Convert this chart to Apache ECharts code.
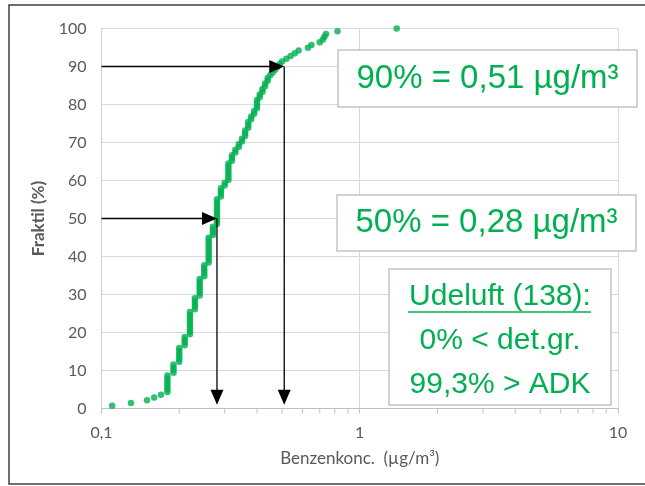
<!DOCTYPE html>
<html>
<head>
<meta charset="utf-8">
<script src="https://cdn.jsdelivr.net/npm/echarts@6/dist/echarts.min.js"></script>
<style>
  html, body { margin: 0; padding: 0; background: #ffffff; }
  #chart { width: 645px; height: 486px; }
</style>
</head>
<body>
<div id="chart"></div>
<script>
// Benzene concentrations in outdoor air (µg/m³), sorted ascending, one per sample
const concentrations = [
  0.11, 0.13, 0.15, 0.16, 0.17,
  0.18, 0.18, 0.18, 0.18, 0.18, 0.18, 0.18,
  0.19, 0.19, 0.19, 0.19,
  0.20, 0.20, 0.20, 0.20, 0.20, 0.20,
  0.21, 0.21, 0.21, 0.21,
  0.22, 0.22, 0.22, 0.22, 0.22, 0.22, 0.22, 0.22, 0.22,
  0.23, 0.23, 0.23, 0.23, 0.23,
  0.24, 0.24, 0.24, 0.24, 0.24, 0.24, 0.24,
  0.25, 0.25, 0.25, 0.25, 0.25,
  0.26, 0.26, 0.26, 0.26, 0.26, 0.26, 0.26, 0.26, 0.26, 0.26,
  0.27, 0.27, 0.27, 0.27,
  0.28, 0.28, 0.28, 0.28, 0.28, 0.28, 0.28, 0.28, 0.28, 0.28,
  0.29, 0.29, 0.29, 0.29,
  0.30, 0.30,
  0.31, 0.31, 0.31, 0.31, 0.31, 0.31, 0.31,
  0.32, 0.32, 0.32,
  0.33, 0.33,
  0.34, 0.34,
  0.35, 0.35,
  0.36, 0.36, 0.36,
  0.37, 0.37, 0.37,
  0.38, 0.38,
  0.39, 0.39,
  0.40, 0.40, 0.40, 0.40,
  0.41, 0.41,
  0.42, 0.42,
  0.43, 0.43,
  0.44, 0.44,
  0.45, 0.46, 0.47, 0.48, 0.49, 0.50,
  0.52, 0.54, 0.56, 0.58, 0.63, 0.65,
  0.70, 0.72, 0.73, 0.74, 0.82, 1.39
];

// Axis ticks
const xMajorTicks = [0.1, 1, 10];
const xMinorTicks = [0.2, 0.3, 0.4, 0.5, 0.6, 0.7, 0.8, 0.9, 2, 3, 4, 5, 6, 7, 8, 9];
const yTicks = [0, 10, 20, 30, 40, 50, 60, 70, 80, 90, 100];

// Read-off quantiles (fraktil in %, concentration in µg/m³)
const quantilePct = [90, 50];
const quantileValue = [0.51, 0.28];
const arrowFloorPct = 1;

// Summary box
const sampleName = 'Udeluft';
const belowDetection = '0%';
const aboveADK = '99,3%';

const decimal = v => String(v).replace('.', ',');
const n = concentrations.length;
const fraktilPoints = concentrations.map((v, i) => [v, (i + 1) / n * 100]);
const arrowData = quantileValue.map((v, i) => [v, quantilePct[i]]);
const minorTickData = xMinorTicks.map(v => [v, yTicks[0]]);

const GREEN = '#00B050';
const AXIS_TEXT = '#595959';
const GRID = '#D9D9D9';

function renderArrow(params, api) {
  const v = api.value(0), p = api.value(1);
  const start = api.coord([xMajorTicks[0], p]);
  const corner = api.coord([v, p]);
  const end = api.coord([v, arrowFloorPct]);
  const hl = 15, hw = 6.5;
  const line = { stroke: '#000000', lineWidth: 1.3 };
  return {
    type: 'group',
    children: [
      { type: 'line', shape: { x1: start[0], y1: start[1], x2: corner[0] - hl + 2, y2: corner[1] }, style: line },
      { type: 'polygon', shape: { points: [[corner[0], corner[1]], [corner[0] - hl, corner[1] - hw], [corner[0] - hl, corner[1] + hw]] }, style: { fill: '#000000' } },
      { type: 'line', shape: { x1: corner[0], y1: corner[1], x2: end[0], y2: end[1] - hl + 2 }, style: line },
      { type: 'polygon', shape: { points: [[end[0], end[1]], [end[0] - hw, end[1] - hl], [end[0] + hw, end[1] - hl]] }, style: { fill: '#000000' } }
    ]
  };
}

function renderMinorTick(params, api) {
  const pt = api.coord([api.value(0), api.value(1)]);
  return {
    type: 'line',
    shape: { x1: pt[0], y1: pt[1], x2: pt[0], y2: pt[1] + 5 },
    style: { stroke: '#BFBFBF', lineWidth: 1 }
  };
}

function boxText(text, x, y, size) {
  return {
    type: 'text', x: x, y: y, z: 11,
    style: {
      text: text, fill: GREEN,
      font: size + 'px "Liberation Sans", Arial, sans-serif',
      textAlign: 'center', textVerticalAlign: 'middle',
      align: 'center', verticalAlign: 'middle'
    }
  };
}
function boxRect(x, y, w, h) {
  return {
    type: 'rect', z: 10,
    shape: { x: x, y: y, width: w, height: h },
    style: { fill: '#ffffff', stroke: '#C4C4C4', lineWidth: 1.5 }
  };
}

const chart = echarts.init(document.getElementById('chart'), null, { renderer: 'canvas' });

chart.setOption({
  animation: false,
  backgroundColor: '#ffffff',
  grid: { left: 101.5, right: 27, top: 28.5, bottom: 77.5 },
  xAxis: {
    type: 'log',
    logBase: 10,
    min: xMajorTicks[0],
    max: xMajorTicks[xMajorTicks.length - 1],
    name: 'Benzenkonc.  (µg/m³)',
    nameLocation: 'middle',
    nameGap: 42,
    nameTextStyle: { color: AXIS_TEXT, fontSize: 17, fontFamily: 'Lato' },
    axisLine: { show: true, lineStyle: { color: '#BFBFBF', width: 1 } },
    axisTick: { show: true, length: 5, lineStyle: { color: '#BFBFBF' } },
    axisLabel: {
      color: AXIS_TEXT, fontSize: 16, fontFamily: 'Lato', margin: 16,
      formatter: v => {
        const t = xMajorTicks.reduce((a, b) => Math.abs(b - v) < Math.abs(a - v) ? b : a);
        return decimal(t);
      }
    },
    splitLine: { show: true, lineStyle: { color: GRID, width: 1 } }
  },
  yAxis: {
    type: 'value',
    min: yTicks[0],
    max: yTicks[yTicks.length - 1],
    interval: yTicks[1] - yTicks[0],
    name: 'Fraktil (%)',
    nameLocation: 'middle',
    nameGap: 54,
    nameTextStyle: { color: AXIS_TEXT, fontSize: 17, fontWeight: 'bold', fontFamily: 'Lato' },
    axisLine: { show: true, lineStyle: { color: '#D0D0D0', width: 1 } },
    axisTick: { show: false },
    axisLabel: { color: AXIS_TEXT, fontSize: 16, fontFamily: 'Lato', margin: 15 },
    splitLine: { show: true, lineStyle: { color: GRID, width: 1 } }
  },
  series: [
    {
      type: 'custom',
      renderItem: renderMinorTick,
      data: minorTickData,
      clip: false,
      silent: true,
      z: 1
    },
    {
      type: 'scatter',
      data: fraktilPoints,
      symbol: 'circle',
      symbolSize: 6.5,
      itemStyle: { color: GREEN },
      z: 3
    },
    {
      type: 'custom',
      renderItem: renderArrow,
      data: arrowData,
      clip: false,
      silent: true,
      z: 5
    }
  ],
  graphic: [
    {
      type: 'rect', z: 20, silent: true,
      shape: { x: 9, y: 5, width: 660, height: 479 },
      style: { fill: 'none', stroke: '#404040', lineWidth: 1.5 }
    },
    boxRect(338, 50, 299, 57),
    boxText(quantilePct[0] + '% = ' + decimal(quantileValue[0].toFixed(2)) + ' µg/m³', 487.5, 79, 33),
    boxRect(337, 195, 299, 56),
    boxText(quantilePct[1] + '% = ' + decimal(quantileValue[1].toFixed(2)) + ' µg/m³', 486.5, 223, 33),
    boxRect(389, 269, 222, 136),
    boxText(sampleName + ' (' + n + '):', 500, 297, 30),
    {
      type: 'line', z: 11,
      shape: { x1: 408, y1: 312, x2: 591, y2: 312 },
      style: { stroke: GREEN, lineWidth: 1.5 }
    },
    boxText(belowDetection + ' < det.gr.', 500, 340.5, 30),
    boxText(aboveADK + ' > ADK', 500, 384.5, 30)
  ]
});
</script>
</body>
</html>
